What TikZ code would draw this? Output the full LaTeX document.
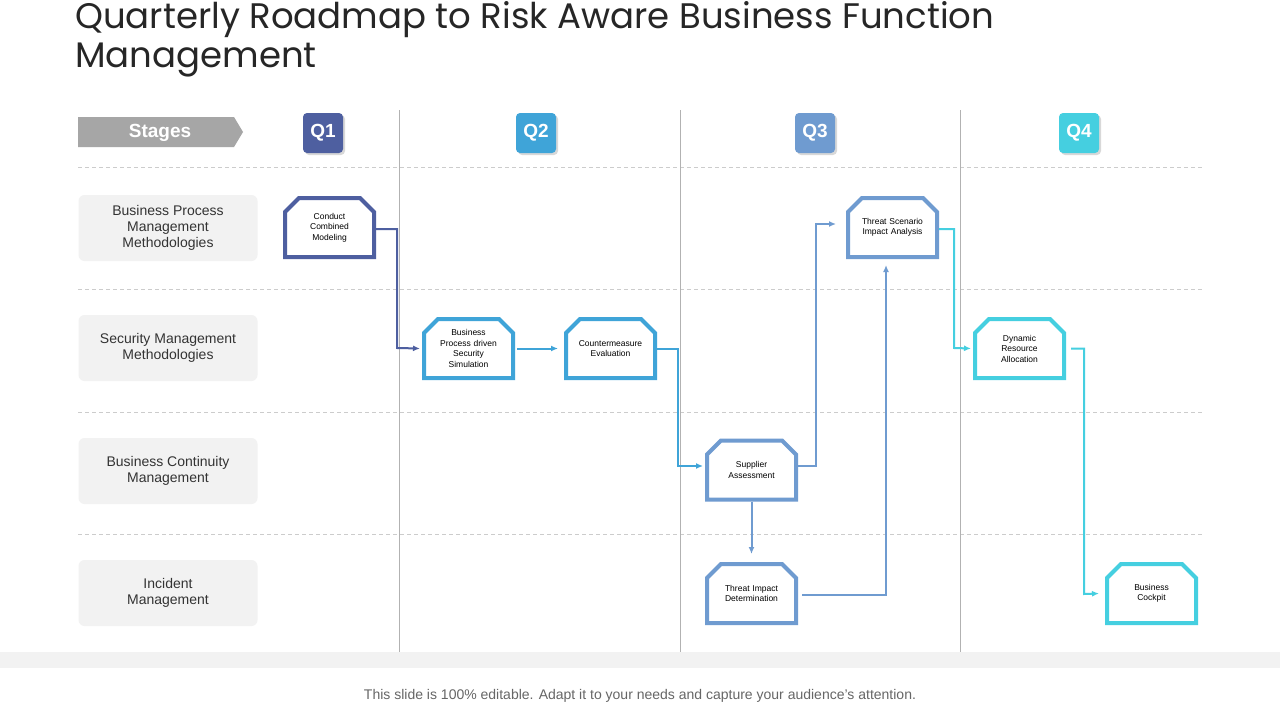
\documentclass[tikz,border=0pt]{standalone}
\usepackage{fontspec}
\setmainfont{Liberation Sans}
\newfontfamily\titlefont{Poppins}
\usetikzlibrary{shapes.misc,shadows,arrows.meta}
\definecolor{cA}{HTML}{4E5FA0}
\definecolor{cB}{HTML}{3FA4D8}
\definecolor{cC}{HTML}{6F9BD0}
\definecolor{cD}{HTML}{45CFE0}
\definecolor{lg}{HTML}{F2F2F2}
\begin{document}
\begin{tikzpicture}[x=1pt,y=-1pt,
  box/.style={chamfered rectangle, chamfered rectangle corners={north east,north west}, chamfered rectangle xsep=7pt, chamfered rectangle ysep=7pt, draw=#1, line width=4pt, fill=white, minimum width=89pt, minimum height=59pt, inner sep=1pt, align=center, font=\fontsize{8.5}{10.5}\selectfont, text width=72pt},
  conn/.style={draw=#1, line width=2pt, -{Latex[length=7pt,width=6pt]}},
  rowlab/.style={rounded corners=6pt, fill=lg, minimum width=179pt, minimum height=66pt, align=center, font=\fontsize{14}{16}\selectfont, text=black!80},
  qbadge/.style={rounded corners=4pt, fill=#1, minimum width=40pt, minimum height=40pt, text=white, font=\fontsize{19}{20}\selectfont\bfseries, drop shadow={opacity=0.3,shadow xshift=2pt,shadow yshift=-2pt}},
]
\useasboundingbox (0,0) rectangle (1280,720);
\fill[white] (0,0) rectangle (1280,720);
% title
\node[anchor=north west, inner sep=0pt, align=left, font=\titlefont\fontsize{35.5}{39}\selectfont, text=black!85] (title) at (75,1) {Quarterly Roadmap to Risk Aware Business Function\\Management};
% grid
\foreach \y in {167,289,412,534} \draw[black!20, dash pattern=on 4pt off 3pt] (78,\y) -- (1202,\y);
\foreach \x in {399,680,960} \draw[black!30, line width=0.8pt] (\x,110) -- (\x,652);
% footer
\fill[lg] (0,652) rectangle (1280,668);
\node[font=\fontsize{14}{16}\selectfont, text=black!60] (foot) at (640,696) {This slide is 100\% editable. Adapt it to your needs and capture your audience's attention.};
% stages
\fill[black!35] (78,117) -- (234,117) -- (243,132) -- (234,147) -- (78,147) -- cycle;
\node[text=white, font=\fontsize{19}{20}\selectfont\bfseries] (stages) at (160,133) {Stages};
% Q badges
\node[qbadge=cA] (q1) at (323,133) {Q1};
\node[qbadge=cB] (q2) at (536,133) {Q2};
\node[qbadge=cC] (q3) at (815,133) {Q3};
\node[qbadge=cD] (q4) at (1079,133) {Q4};
% row labels
\node[rowlab] (r1) at (168,228) {Business Process\\Management\\Methodologies};
\node[rowlab] (r2) at (168,348) {Security Management\\Methodologies};
\node[rowlab] (r3) at (168,471) {Business Continuity\\Management};
\node[rowlab] (r4) at (168,593) {Incident\\Management};
% boxes
\node[box=cA] (A) at (329.5,227.5) {Conduct\\Combined\\Modeling};
\node[box=cB] (B) at (468.5,348.5) {Business\\Process driven\\Security\\Simulation};
\node[box=cB] (C) at (610.5,348.5) {Countermeasure\\Evaluation};
\node[box=cC] (D) at (751.5,470) {Supplier\\Assessment};
\node[box=cC] (E) at (892.5,227.5) {Threat Scenario\\Impact Analysis};
\node[box=cC] (F) at (751.5,593.5) {Threat Impact\\Determination};
\node[box=cD] (G) at (1019.5,348.5) {Dynamic\\Resource\\Allocation};
\node[box=cD] (H) at (1151.5,593.5) {Business\\Cockpit};
% connectors
\draw[conn=cA] (A.east |- 0,229) -| (397,348) -- ([xshift=-2pt]B.west);
\draw[conn=cB, shorten <=2pt] (B.east) -- ([xshift=-6pt]C.west);
\draw[conn=cB] (C.east) -| (678,466) -- ([xshift=-2pt]D.west |- 0,466);
\draw[conn=cC] (D.east |- 0,466) -| (816,224) -- ([xshift=-10pt]E.west |- 0,224);
\draw[conn=cC] (D.south) -- ([yshift=8pt]F.north);
\draw[conn=cC] ([xshift=4pt]F.east |- 0,595) -| ([yshift=-6pt]886,0 |- E.south);
\draw[conn=cD] (E.east |- 0,229) -| (954,348) -- ([xshift=-2pt]G.west);
\draw[conn=cD] ([xshift=5pt]G.east) -| (1084,594) -- ([xshift=-6pt]H.west);
\end{tikzpicture}
\end{document}
